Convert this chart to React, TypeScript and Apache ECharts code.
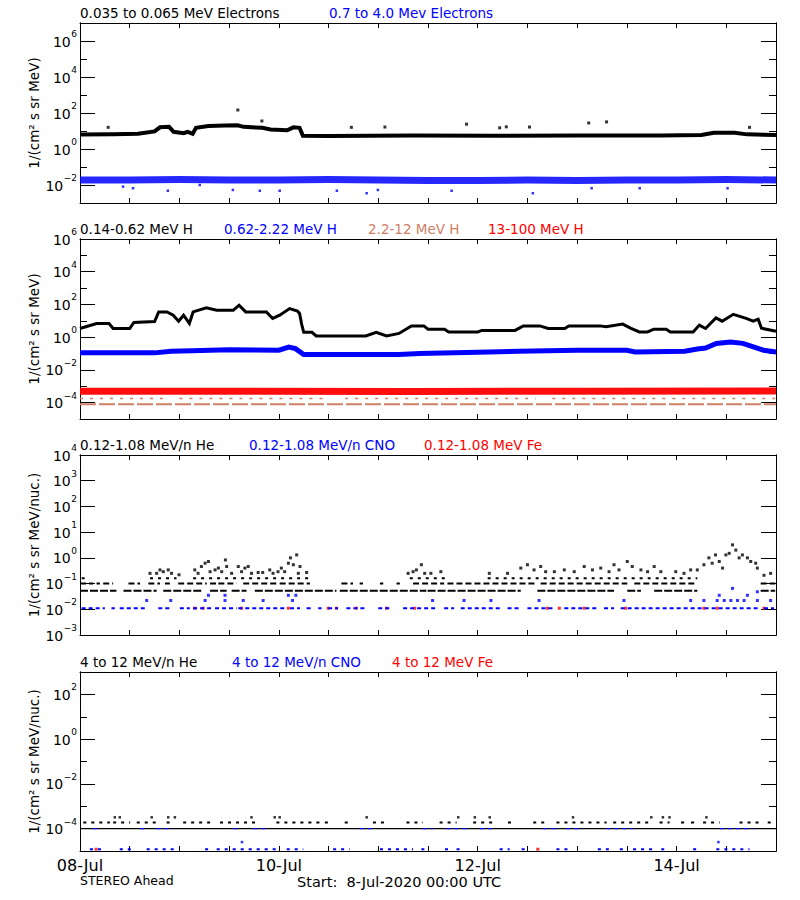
import React, { useEffect, useRef } from 'react';
import * as echarts from 'echarts';

const FONT = 'DejaVu Sans';
const BLACK = '#000000';
const BLUE = '#0000ff';
const RED = '#ff0000';
const BROWN = '#cd8064';

// ---------- x axis (hours since 8-Jul-2020 00:00 UTC) ----------
const dayTickHours = [0, 48, 96, 144];
const dayTickLabels = ['08-Jul', '10-Jul', '12-Jul', '14-Jul'];

// ---------- Panel 1: electrons ----------
const eLowHours = [0, 8, 14, 18, 19.3, 21.5, 22.6, 25, 26, 27.2, 28, 31, 35, 38, 39.5, 44, 46, 50, 51.5, 53, 53.8, 60, 80, 100, 120, 140, 150, 153, 158, 161, 168];
const eLowFlux = [6.3, 6.5, 7, 9.5, 16, 17, 9, 7.5, 9, 7, 15, 19, 20, 21, 17, 15, 12, 11, 16, 15, 5.5, 5.3, 5.6, 5.5, 5.6, 5.6, 6, 8, 8, 6.5, 6];
const eLowOutHours = [6.8, 38.1, 43.9, 65.5, 73.6, 93.3, 101.3, 102.9, 108.5, 122.8, 127.1, 161.6];
const eLowOutFlux = [16, 147, 36, 16, 16.6, 24, 15, 17, 16.6, 28, 32, 16];
const eHighHours = [0, 12, 24, 36, 48, 60, 72, 84, 96, 108, 120, 132, 144, 156, 168];
const eHighFlux = [0.019, 0.019, 0.02, 0.019, 0.019, 0.02, 0.019, 0.018, 0.018, 0.019, 0.018, 0.019, 0.019, 0.02, 0.019];
const eHighOutHours = [10.4, 12.8, 21.2, 28.9, 36.9, 43.4, 48.2, 62, 69.2, 71.9, 89.7, 109.3, 123.5, 135.1, 156.3];
const eHighOutFlux = [0.0081, 0.0066, 0.0048, 0.01, 0.0053, 0.0048, 0.0048, 0.0048, 0.0035, 0.0053, 0.0048, 0.0035, 0.0066, 0.0066, 0.0066];

// ---------- Panel 2: protons ----------
const h1Hours = [0, 4, 7, 8, 12, 13, 18, 19, 21, 22.5, 23.8, 25, 26.4, 27.3, 30.5, 33, 37, 38.4, 40, 45, 46.5, 48.2, 50.6, 52.5, 53, 53.5, 54, 56, 57, 69, 71.5, 74, 77, 80, 83, 84, 88, 89, 96, 97, 105, 107, 111, 113, 117, 118, 125.5, 127, 131, 133, 135, 137, 138.5, 141.5, 142.5, 148, 149.5, 151, 153.5, 155, 157.7, 160.8, 162.5, 163.7, 164.5, 168];
const h1Flux = [3.4, 6.9, 6.9, 3.4, 3.4, 8, 9, 35, 35, 22, 9.5, 22, 7, 35, 62, 45, 45, 90, 35, 35, 14, 22, 56, 40, 28, 6.3, 2, 2, 1.2, 1.2, 2, 1.2, 1.7, 4.9, 4.9, 3.1, 3.1, 2.1, 2.1, 2.6, 2.6, 4.9, 4.9, 3.4, 3.4, 4.9, 4.9, 4.3, 6.3, 3.5, 2.1, 2.1, 3.1, 3.1, 2.1, 2.1, 5.5, 3.4, 15, 9.5, 25, 14, 9.5, 12.6, 3.5, 2.3];
const h2Hours = [0, 18, 22, 27, 36, 48, 50.4, 52, 54, 77, 82, 96, 106, 120, 132, 134, 146, 149, 151, 153.6, 157, 160, 162, 165, 168];
const h2Flux = [0.11, 0.11, 0.14, 0.15, 0.17, 0.16, 0.25, 0.2, 0.087, 0.087, 0.1, 0.12, 0.14, 0.16, 0.16, 0.126, 0.14, 0.19, 0.22, 0.41, 0.51, 0.42, 0.28, 0.16, 0.126];
const h3Level = 8e-5;
const h3Segments = [[0, 168]];
const h3UpperLevel = 1.8e-4;
const h3UpperSegments = [[0, 20], [24, 60], [64, 110], [114, 168]];
const h4Hours = [0, 40, 80, 120, 168];
const h4Flux = [5e-4, 5e-4, 4.8e-4, 5e-4, 5.2e-4];

// ---------- Panel 3: 0.12-1.08 MeV/n ions ----------
const he3Level1 = 0.052;
const he3Seg1 = [[0, 8.8], [10.5, 18.5], [20.1, 29.7], [31.4, 35.4], [36.6, 40.2], [42.2, 61.9], [62.7, 83.6], [83.9, 106.4], [110.4, 128.9], [132.1, 135.4], [138.6, 149], [164.3, 167.8]];
const he3Level2 = 0.1;
const he3Seg2 = [[0, 3.2], [4, 4.8], [5.6, 8], [11.7, 14.5], [16.5, 19.3], [20.5, 21.7], [23.7, 30.6], [31.4, 33], [33.4, 37.8], [39.4, 47.4], [48.2, 55.5], [63.1, 65.9], [67.5, 68.3], [72.4, 73.2], [76.4, 77.2], [80.4, 87.9], [88.7, 110.4], [111.2, 132.1], [133.8, 149], [164.3, 167.8]];
const he3Level3 = 0.16;
const he3Seg3 = [[0.4, 1.2], [16.9, 23.3], [27.3, 55.5], [79.6, 88.7], [98.4, 149]];
const he3PtsHours = [16.9, 18.5, 19.3, 20.1, 21.3, 22.1, 23.9, 27.7, 28.5, 29.3, 30.2, 31, 31.4, 32.6, 33.4, 34.2, 35.1, 35.4, 36.6, 38.2, 39, 39.8, 40.6, 41.4, 43, 44.1, 45.8, 46.6, 47.8, 48.6, 49.4, 50.3, 50.8, 51.5, 52.3, 52.7, 53.1, 54.7, 79.2, 80.4, 81.2, 82.4, 83.2, 84.7, 87.1, 98.8, 103.2, 106.4, 108, 109.6, 111.2, 112.4, 114.5, 116.9, 119.3, 121.7, 123.7, 125.7, 127.7, 128.9, 130.1, 132.1, 133.3, 135.4, 137, 138.6, 140.2, 143.8, 145.8, 147.4, 149, 150.6, 151.8, 152.6, 153.4, 154.3, 155.1, 155.9, 156.7, 157.5, 158.3, 159.1, 159.9, 161.1, 161.9, 163.1, 163.5, 165.1, 166.7];
const he3PtsFlux = [0.25, 0.25, 0.34, 0.29, 0.34, 0.25, 0.22, 0.34, 0.25, 0.46, 0.62, 0.72, 0.29, 0.34, 0.4, 0.29, 0.83, 0.46, 0.25, 0.46, 0.29, 0.4, 0.46, 0.25, 0.27, 0.27, 0.34, 0.25, 0.29, 0.4, 0.29, 0.62, 1.0, 0.54, 1.3, 0.25, 0.46, 0.27, 0.25, 0.29, 0.34, 0.54, 0.25, 0.25, 0.29, 0.25, 0.25, 0.4, 0.54, 0.34, 0.46, 0.29, 0.29, 0.34, 0.29, 0.46, 0.34, 0.4, 0.29, 0.54, 0.34, 0.72, 0.46, 0.34, 0.29, 0.46, 0.29, 0.29, 0.25, 0.34, 0.34, 0.54, 1.0, 0.62, 1.3, 0.72, 0.4, 1.3, 1.5, 3.2, 2.0, 1.0, 1.3, 1.0, 0.72, 0.62, 0.4, 0.21, 0.25];
const cno3Level1 = 0.011;
const cno3Seg1 = [[0.4, 6], [7.6, 8.4], [9.6, 15.7], [18.9, 21.7], [24.1, 26.5], [27.3, 32.2], [32.6, 37.8], [38.2, 49.8], [50.7, 53.1], [54.7, 56.3], [57.5, 58.3], [59.9, 62.3], [64.3, 69.1], [72, 74.8], [78, 86.3], [87.9, 90.3], [91.9, 101.6], [103.2, 106.4], [108, 114.5], [116.9, 124.9], [126.5, 128.9], [130.5, 164.3], [165.1, 167.5]];
const cno3PtsHours = [16.1, 21.9, 30.2, 31, 35, 35, 39.4, 44.2, 50.3, 51.3, 52.1, 85.1, 92.7, 99.2, 110.8, 131.3, 147.4, 150.6, 153.8, 154.3, 155.5, 157.1, 157.5, 158.7, 160.3, 161.1, 163.5, 163.5, 166.7];
const cno3PtsFlux = [0.022, 0.022, 0.022, 0.035, 0.022, 0.035, 0.022, 0.022, 0.035, 0.022, 0.035, 0.022, 0.022, 0.022, 0.022, 0.022, 0.022, 0.022, 0.022, 0.035, 0.022, 0.022, 0.065, 0.022, 0.022, 0.035, 0.022, 0.048, 0.022];
const fe3PtsHours = [27.7, 29.7, 39, 50.3, 59.9, 61.9, 66.7, 74, 80.8, 112.8, 115.7, 121.7, 131.7, 150.6, 153.8, 165.1];
const fe3PtsFlux = [0.011, 0.011, 0.011, 0.011, 0.011, 0.011, 0.011, 0.011, 0.011, 0.011, 0.011, 0.011, 0.011, 0.011, 0.011, 0.011];

// ---------- Panel 4: 4-12 MeV/n ions ----------
const he4Level1 = 1e-4;
const he4Seg1 = [[0, 168]];
const he4Level2 = 1.9e-4;
const he4Seg2 = [[0.8, 7.2], [8, 12.1], [13.7, 18.5], [20.9, 22.5], [24.9, 31.4], [33.8, 43.4], [47.4, 57.9], [59.1, 59.9], [63.9, 64.7], [70.7, 74], [78.8, 82.8], [86.8, 90.9], [94.9, 100.5], [103.3, 104.1], [109.4, 112.6], [115, 127.1], [128.7, 138.3], [139.9, 142.3], [145.1, 145.9], [147.5, 148.3], [150.4, 154.4], [159.2, 164], [166, 166.8]];
const he4PtsHours = [8.4, 9.6, 17.3, 21.3, 22.9, 41.4, 47, 48.2, 69.2, 91.3, 95.3, 98.9, 119, 137.9, 140.7, 142.3, 151.2];
const he4PtsFlux = [3.2e-4, 3.2e-4, 3.2e-4, 3.2e-4, 3.2e-4, 3.2e-4, 3.2e-4, 3.2e-4, 3.2e-4, 3.2e-4, 3.2e-4, 3.2e-4, 3.2e-4, 3.2e-4, 3.2e-4, 3.2e-4, 3.2e-4];
const cno4Level1 = 1e-4;
const cno4Seg1 = [[3.2, 4.8], [14.5, 16.1], [18.5, 22.5], [37, 38.6], [41.8, 45], [67.5, 70.7], [82.8, 85.2], [88.5, 93.3], [96.5, 99.7], [111.8, 115.8], [117.4, 121.4], [127.1, 133.5], [154.4, 162.4]];
const cno4Level2 = 1.2e-5;
const cno4Seg2 = [[2.4, 5.6], [9.6, 12.9], [16.1, 23.3], [30.2, 31], [33, 48.2], [49.9, 53.9], [61.1, 65.1], [72.4, 80.4], [82.4, 83.2], [88.1, 88.9], [90.9, 91.7], [101.3, 103.7], [106.6, 107.4], [115, 118.2], [125, 127.9], [130.3, 131.1], [133.5, 138.3], [140.3, 141.1], [148, 149.6], [153.6, 161.6]];
const cno4PtsHours = [39.1, 154.1];
const cno4PtsFlux = [2.5e-5, 2.5e-5];
const fe4PtsHours = [3.9, 110.5];
const fe4PtsFlux = [1.2e-5, 1.2e-5];

// ---------- y axes (decade exponents) ----------
const yRanges = [[-3, 7], [-5, 6], [-3, 4], [-5, 3]];
const yMajor = [[-2, 0, 2, 4, 6], [-4, -2, 0, 2, 4, 6], [-3, -2, -1, 0, 1, 2, 3, 4], [-4, -2, 0, 2]];
const yMinor = [[-1, 1, 3, 5], [-3, -1, 1, 3, 5], [], [-3, -1, 1]];
const yNames = ['1/(cm² s sr MeV)', '1/(cm² s sr MeV)', '1/(cm² s sr MeV/nuc.)', '1/(cm² s sr MeV/nuc.)'];

const Y_PER_GRID = 4;
const L = (v: number) => Math.log10(v);
const lineData = (hours: number[], flux: number[]) => hours.map((h, i) => [h, L(flux[i])]);
const segData = (segs: number[][], level: number) => {
  const out: any[] = [];
  segs.forEach(([a, b]) => {
    out.push([a, L(level)], [b, L(level)], [b, null]);
  });
  return out;
};

function lineSeries(g: number, data: any[], color: string, width: number, type: any = 'solid', opacity = 1) {
  return {
    type: 'line', xAxisIndex: g * 2, yAxisIndex: g * Y_PER_GRID, data, showSymbol: false, symbol: 'none',
    connectNulls: false, silent: true, clip: true,
    lineStyle: { color, width, type, opacity, cap: 'butt', join: 'miter' },
  };
}
function scatterSeries(g: number, data: any[], color: string, size = 3) {
  return {
    type: 'scatter', xAxisIndex: g * 2, yAxisIndex: g * Y_PER_GRID, data, symbol: 'rect', symbolSize: size,
    itemStyle: { color }, silent: true, clip: true,
  };
}

const supText = (v: number) => (v < 0 ? '\u2212' + String(-v) : String(v));

// header / footer texts: [text, left, top, colour, font size]
const headerSpecs: [string, number, number, string, number][] = [
  ['0.035 to 0.065 MeV Electrons', 80, 6, BLACK, 13.5],
  ['0.7 to 4.0 Mev Electrons', 329, 6, BLUE, 13.5],
  ['0.14-0.62 MeV H', 80, 222, BLACK, 13.5],
  ['0.62-2.22 MeV H', 224, 222, BLUE, 13.5],
  ['2.2-12 MeV H', 368, 222, BROWN, 13.5],
  ['13-100 MeV H', 488, 222, RED, 13.5],
  ['0.12-1.08 MeV/n He', 80, 438, BLACK, 13.5],
  ['0.12-1.08 MeV/n CNO', 249, 438, BLUE, 13.5],
  ['0.12-1.08 MeV Fe', 424, 438, RED, 13.5],
  ['4 to 12 MeV/n He', 80, 655, BLACK, 13.5],
  ['4 to 12 MeV/n CNO', 232, 655, BLUE, 13.5],
  ['4 to 12 MeV Fe', 392, 655, RED, 13.5],
  ['STEREO Ahead', 80, 874, BLACK, 12.5],
  ['Start:  8-Jul-2020 00:00 UTC', 297, 874, BLACK, 14.5],
];

function buildOption() {
  const grids = [
    { top: 23, height: 180 },
    { top: 239, height: 180 },
    { top: 455, height: 180 },
    { top: 672, height: 179 },
  ].map((g) => ({ left: 80, right: 24, ...g }));

  const xAxes: any[] = [];
  const yAxes: any[] = [];
  grids.forEach((_, i) => {
    const isLast = i === 3;
    const baseX = {
      type: 'value', gridIndex: i, min: 0, max: 168, interval: 12,
      axisLine: { show: true, onZero: false, lineStyle: { color: BLACK, width: 1 } },
      axisTick: { show: true, inside: true, length: 5, lineStyle: { color: BLACK } },
      splitLine: { show: false },
    };
    xAxes.push({
      ...baseX, position: 'bottom',
      axisLabel: isLast
        ? {
            show: true, margin: 6, color: BLACK, fontSize: 16, fontFamily: FONT,
            showMinLabel: true, showMaxLabel: true,
            formatter: (v: number) => {
              const k = dayTickHours.indexOf(v);
              return k >= 0 ? dayTickLabels[k] : '';
            },
          }
        : { show: false },
    });
    xAxes.push({ ...baseX, position: 'top', axisLabel: { show: false } });

    const [mn, mx] = yRanges[i];
    const baseY = {
      type: 'value', gridIndex: i, min: mn, max: mx,
      axisLine: { show: true, onZero: false, lineStyle: { color: BLACK, width: 1 } },
      splitLine: { show: false },
      axisLabel: { show: false },
    };
    const minorTick = yMinor[i].length
      ? { show: true, inside: true, length: 7, customValues: yMinor[i], lineStyle: { color: BLACK } }
      : { show: false };
    const majorTick = { show: true, inside: true, length: 15, customValues: yMajor[i], lineStyle: { color: BLACK } };
    yAxes.push({
      ...baseY, position: 'left', axisTick: majorTick,
      name: yNames[i], nameLocation: 'middle', nameGap: 39,
      nameTextStyle: { fontFamily: FONT, fontSize: 13.5, color: BLACK },
    });
    yAxes.push({ ...baseY, position: 'left', axisTick: minorTick });
    yAxes.push({ ...baseY, position: 'right', axisTick: majorTick });
    yAxes.push({ ...baseY, position: 'right', axisTick: minorTick });
  });

  const pts = (hours: number[], flux: number[]) => hours.map((h, i) => [h, L(flux[i])]);

  const series: any[] = [
    // panel 1
    lineSeries(0, lineData(eLowHours, eLowFlux), BLACK, 4),
    scatterSeries(0, pts(eLowOutHours, eLowOutFlux), BLACK, 3),
    lineSeries(0, lineData(eHighHours, eHighFlux), BLUE, 7, 'solid', 0.85),
    scatterSeries(0, pts(eHighOutHours, eHighOutFlux), BLUE, 2.5),
    // panel 2
    lineSeries(1, segData(h3Segments, h3Level), BROWN, 2, [16, 3]),
    lineSeries(1, segData(h3UpperSegments, h3UpperLevel), BROWN, 1.5, [3, 7]),
    lineSeries(1, lineData(h4Hours, h4Flux), RED, 7, 'solid', 0.95),
    lineSeries(1, lineData(h2Hours, h2Flux), BLUE, 5),
    lineSeries(1, lineData(h1Hours, h1Flux), BLACK, 3),
    // panel 3
    lineSeries(2, segData(cno3Seg1, cno3Level1), BLUE, 2, [4, 3]),
    scatterSeries(2, pts(fe3PtsHours, fe3PtsFlux), RED, 3),
    scatterSeries(2, pts(cno3PtsHours, cno3PtsFlux), BLUE, 3),
    lineSeries(2, segData(he3Seg1, he3Level1), BLACK, 2, [8, 2]),
    lineSeries(2, segData(he3Seg2, he3Level2), BLACK, 2, [6, 3]),
    lineSeries(2, segData(he3Seg3, he3Level3), BLACK, 2, [3, 5]),
    scatterSeries(2, pts(he3PtsHours, he3PtsFlux), BLACK, 3),
    // panel 4
    lineSeries(3, segData(he4Seg1, he4Level1), BLACK, 1.2),
    lineSeries(3, segData(cno4Seg1, cno4Level1), BLUE, 1.2, [4, 4]),
    lineSeries(3, segData(he4Seg2, he4Level2), BLACK, 2, [3, 5]),
    scatterSeries(3, pts(he4PtsHours, he4PtsFlux), BLACK, 2.5),
    lineSeries(3, segData(cno4Seg2, cno4Level2), BLUE, 2, [3, 5]),
    scatterSeries(3, pts(cno4PtsHours, cno4PtsFlux), BLUE, 2.5),
    scatterSeries(3, pts(fe4PtsHours, fe4PtsFlux), RED, 3),
  ];

  return {
    animation: false,
    backgroundColor: '#ffffff',
    grid: grids,
    xAxis: xAxes,
    yAxis: yAxes,
    series,
  };
}

// headers and y tick labels "10^n" (tick labels placed through the chart's own axes)
function buildGraphics(chart: echarts.ECharts) {
  const canvas = document.createElement('canvas');
  const ctx = canvas.getContext('2d');
  const supFont = `9px "${FONT}"`;
  const measure = (t: string) => {
    if (!ctx) return t.length * 6;
    ctx.font = supFont;
    return ctx.measureText(t).width;
  };
  const elements: any[] = [];
  headerSpecs.forEach(([text, left, top, color, size], k) => {
    elements.push({
      type: 'text', id: `hdr-${k}`, z: 50, silent: true, x: left, y: top,
      style: { text, fill: color, font: `${size}px "${FONT}"`, align: 'left', verticalAlign: 'top' },
    });
  });
  yMajor.forEach((exps, i) => {
    exps.forEach((v, k) => {
      const p = chart.convertToPixel({ xAxisIndex: i * 2, yAxisIndex: i * Y_PER_GRID } as any, [0, v]) as number[];
      if (!p) return;
      const [px, py] = p;
      const s = supText(v);
      const right = px - 3;
      elements.push({
        type: 'text', id: `exp-${i}-${k}`, z: 100, silent: true, x: right, y: py - 2.5,
        style: { text: s, fill: BLACK, font: supFont, align: 'right', verticalAlign: 'bottom' },
      });
      elements.push({
        type: 'text', id: `ten-${i}-${k}`, z: 100, silent: true, x: right - measure(s) - 0.5, y: py + 0.5,
        style: { text: '10', fill: BLACK, font: `14px "${FONT}"`, align: 'right', verticalAlign: 'middle' },
      });
    });
  });
  return elements;
}

export default function App() {
  const ref = useRef<HTMLDivElement>(null);
  useEffect(() => {
    if (!ref.current) return;
    const chart = echarts.init(ref.current, null, { renderer: 'svg' });
    chart.setOption(buildOption() as any);
    chart.setOption({ graphic: buildGraphics(chart) } as any);
    return () => chart.dispose();
  }, []);
  return (
    <div
      ref={ref}
      style={{ position: 'absolute', left: 0, top: 0, width: 800, height: 900, background: '#ffffff' }}
    />
  );
}
